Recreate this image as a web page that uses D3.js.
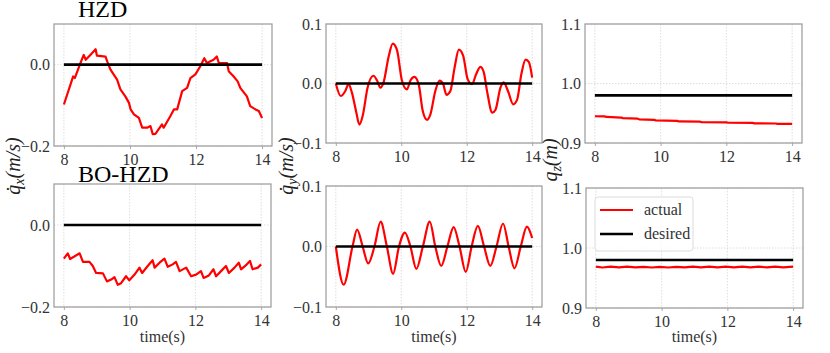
<!DOCTYPE html>
<html>
<head>
<meta charset="utf-8">
<script src="https://cdn.jsdelivr.net/npm/d3@7"></script>
<style>
  body { margin: 0; background: #fff; }
  text { font-family: "Liberation Serif", "DejaVu Serif", serif; }
</style>
</head>
<body>
<script>
// time axis and tick labels
var timeDomain = [7.7, 14.3];
var timeTicks = [8, 10, 12, 14];
var ticksVx = [-0.2, 0.0];
var ticksVy = [-0.1, 0.0, 0.1];
var ticksZ = [0.9, 1.0, 1.1];

// HZD row, [time, value]
var hzdVx = [[8,-0.098],[8.28,-0.029],[8.33,-0.033],[8.5,0.004],[8.6,0.024],[8.66,0.012],[8.8,0.024],
  [8.96,0.038],[9.0,0.022],[9.26,0.020],[9.31,0.008],[9.41,-0.012],[9.61,-0.037],[9.71,-0.061],
  [9.86,-0.078],[9.97,-0.094],[10.02,-0.110],[10.12,-0.122],[10.27,-0.131],[10.37,-0.155],
  [10.52,-0.155],[10.62,-0.151],[10.69,-0.171],[10.77,-0.170],[10.97,-0.147],[11.02,-0.155],
  [11.22,-0.127],[11.33,-0.110],[11.43,-0.110],[11.58,-0.065],[11.73,-0.057],[11.83,-0.033],
  [11.98,-0.024],[12.13,-0.004],[12.25,0.016],[12.33,0.004],[12.53,0.012],[12.63,0.020],
  [12.69,0.004],[12.94,0.004],[12.99,-0.016],[13.14,-0.029],[13.26,-0.041],[13.34,-0.057],
  [13.54,-0.078],[13.64,-0.102],[13.80,-0.110],[13.90,-0.114],[14.0,-0.131]];
var hzdVy = [[8,0],[8.15,-0.021],[8.29,-0.0125],[8.39,-0.001],[8.49,-0.015],[8.62,-0.047],[8.72,-0.069],
  [8.83,-0.052],[8.97,-0.007],[9.15,0.013],[9.26,0.005],[9.36,-0.007],[9.46,0.002],[9.61,0.044],
  [9.74,0.067],[9.87,0.056],[10.02,0.005],[10.17,-0.010],[10.28,0.005],[10.40,0.011],[10.53,-0.001],
  [10.66,-0.047],[10.79,-0.061],[10.89,-0.052],[11.04,-0.0125],[11.17,0.005],[11.28,-0.001],
  [11.38,-0.019],[11.50,-0.0125],[11.63,0.027],[11.76,0.057],[11.89,0.047],[12.03,0.007],
  [12.16,-0.001],[12.29,0.016],[12.42,0.028],[12.52,0.019],[12.62,-0.0125],[12.78,-0.049],
  [12.88,-0.044],[13.03,-0.007],[13.13,0.002],[13.26,-0.0125],[13.42,-0.035],[13.54,-0.027],
  [13.67,0.016],[13.80,0.040],[13.90,0.036],[14.0,0.010]];
var hzdZ = [[8,0.945],[8.3,0.9448],[8.35,0.9438],[8.8,0.9428],[8.85,0.9418],[9.3,0.9408],[9.35,0.9398],
  [9.8,0.9388],[9.85,0.938],[10.5,0.9372],[10.55,0.9362],[11.2,0.9358],[11.25,0.9350],[12,0.9348],
  [12.05,0.9340],[12.8,0.9338],[12.85,0.9330],[13.5,0.9328],[13.55,0.9322],[14,0.932]];

// BO-HZD row
var boVx = [[8.0,-0.082],[8.12,-0.069],[8.19,-0.083],[8.48,-0.069],[8.58,-0.090],[8.78,-0.090],
  [8.88,-0.100],[8.98,-0.117],[9.19,-0.118],[9.31,-0.1375],[9.44,-0.133],[9.54,-0.127],
  [9.64,-0.146],[9.74,-0.142],[9.89,-0.125],[9.99,-0.135],[10.15,-0.121],[10.30,-0.104],
  [10.38,-0.117],[10.55,-0.100],[10.70,-0.086],[10.76,-0.104],[10.91,-0.092],[11.06,-0.082],
  [11.16,-0.102],[11.31,-0.096],[11.41,-0.090],[11.52,-0.1125],[11.72,-0.104],[11.87,-0.125],
  [12.02,-0.121],[12.17,-0.1125],[12.25,-0.129],[12.41,-0.123],[12.55,-0.108],[12.63,-0.125],
  [12.78,-0.1125],[12.93,-0.100],[13.02,-0.117],[13.19,-0.104],[13.32,-0.092],[13.39,-0.108],
  [13.54,-0.098],[13.66,-0.0875],[13.74,-0.108],[13.90,-0.104],[14.0,-0.096]];
var boVy = [[8,0],[8.24,-0.063],[8.51,0],[8.65,0.028],[8.82,0],[8.99,-0.028],[9.18,0],[9.37,0.041],
  [9.56,0],[9.75,-0.045],[9.93,0],[10.11,0.023],[10.28,0],[10.46,-0.037],[10.66,0],[10.87,0.041],
  [11.04,0],[11.22,-0.032],[11.41,0],[11.60,0.032],[11.78,0],[11.97,-0.042],[12.15,0],[12.34,0.034],
  [12.53,0],[12.72,-0.032],[12.91,0],[13.11,0.038],[13.28,0],[13.46,-0.036],[13.65,0],[13.84,0.033],
  [14.0,0.014]];
var boZ = [[8,0.969],[8.2,0.9675],[8.45,0.9688],[8.7,0.9676],[8.95,0.9688],[9.2,0.9676],[9.45,0.9687],
  [9.7,0.9675],[9.95,0.9687],[10.2,0.9675],[10.45,0.9687],[10.7,0.9676],[10.95,0.9688],[11.2,0.9676],
  [11.45,0.9688],[11.7,0.9676],[11.95,0.9688],[12.2,0.9676],[12.45,0.9688],[12.7,0.9676],
  [12.95,0.9688],[13.2,0.9676],[13.45,0.9688],[13.7,0.9676],[14,0.969]];

var desiredV = [[8,0],[14,0]];
var desiredZ = [[8,0.98],[14,0.98]];

var titles = ["HZD", "BO-HZD"];

var svg = d3.select("body").append("svg")
  .attr("width", 830)
  .attr("height", 353);

// one entry per subplot
var panels = [
  {x0:54,  x1:272, y0:24,  y1:146, dom:[-0.2,0.1], ticks:ticksVx, actual:hzdVx, desired:desiredV, curve:d3.curveLinear},
  {x0:326, x1:542, y0:24,  y1:143, dom:[-0.1,0.1], ticks:ticksVy, actual:hzdVy, desired:desiredV, curve:d3.curveMonotoneX},
  {x0:585, x1:802, y0:24,  y1:143, dom:[0.9,1.1],  ticks:ticksZ,  actual:hzdZ,  desired:desiredZ, curve:d3.curveLinear},
  {x0:54,  x1:271, y0:184, y1:307, dom:[-0.2,0.1], ticks:ticksVx, actual:boVx,  desired:desiredV, curve:d3.curveLinear, xlabel:true},
  {x0:326, x1:542, y0:186, y1:307, dom:[-0.1,0.1], ticks:ticksVy, actual:boVy,  desired:desiredV, curve:d3.curveMonotoneX, xlabel:true},
  {x0:586, x1:803, y0:188, y1:308, dom:[0.9,1.1],  ticks:ticksZ,  actual:boZ,   desired:desiredZ, curve:d3.curveLinear, xlabel:true, legend:true}
];

panels.forEach(function(p) {
  var x = d3.scaleLinear().domain(timeDomain).range([p.x0, p.x1]);
  var y = d3.scaleLinear().domain(p.dom).range([p.y1, p.y0]);
  var g = svg.append("g");

  // grid
  g.selectAll("line.gx").data(timeTicks).enter().append("line")
    .attr("x1", function(d) { return x(d); }).attr("x2", function(d) { return x(d); })
    .attr("y1", p.y0).attr("y2", p.y1)
    .style("stroke", "#d6d6d6").style("stroke-width", 0.8).style("stroke-dasharray", "1.5,1.5");
  g.selectAll("line.gy").data(p.ticks).enter().append("line")
    .attr("x1", p.x0).attr("x2", p.x1)
    .attr("y1", function(d) { return y(d); }).attr("y2", function(d) { return y(d); })
    .style("stroke", "#d6d6d6").style("stroke-width", 0.8).style("stroke-dasharray", "1.5,1.5");

  // axes
  var xAxis = d3.axisBottom(x).tickValues(timeTicks).tickSize(3).tickPadding(5).tickFormat(d3.format("d"));
  var ax = g.append("g").attr("transform", "translate(0," + p.y1 + ")").call(xAxis);
  var yAxis = d3.axisLeft(y).tickValues(p.ticks).tickSize(0).tickPadding(4).tickFormat(d3.format(".1f"));
  var ay = g.append("g").attr("transform", "translate(" + p.x0 + ",0)").call(yAxis);
  [ax, ay].forEach(function(a) {
    a.select(".domain").remove();
    a.selectAll("line").style("stroke", "#aaa");
    a.selectAll("text").style("font-size", "16px").style("fill", "#333")
      .style("font-family", "'Liberation Serif', serif");
  });

  var line = d3.line()
    .x(function(d) { return x(d[0]); })
    .y(function(d) { return y(d[1]); })
    .curve(p.curve);

  g.append("path").datum(p.actual).attr("d", line)
    .style("fill", "none").style("stroke", "#ff0000").style("stroke-width", 2.2)
    .style("stroke-linejoin", "round");
  g.append("path").datum(p.desired).attr("d", line)
    .style("fill", "none").style("stroke", "#000").style("stroke-width", 2.6);

  // frame
  g.append("rect")
    .attr("x", p.x0).attr("y", p.y0)
    .attr("width", p.x1 - p.x0).attr("height", p.y1 - p.y0)
    .style("fill", "none").style("stroke", "#9a9a9a").style("stroke-width", 1.2);

  if (p.xlabel) {
    g.append("text")
      .attr("x", (p.x0 + p.x1) / 2).attr("y", 342)
      .attr("text-anchor", "middle")
      .style("font-size", "16px").style("fill", "#333")
      .text("time(s)");
  }

  if (p.legend) {
    var lg = g.append("g");
    lg.append("rect").attr("x", 595).attr("y", 197).attr("width", 98).attr("height", 54)
      .attr("rx", 3).style("fill", "#fff").style("fill-opacity", 0.8)
      .style("stroke", "#dcdcdc").style("stroke-width", 1);
    var items = [["actual", "#ff0000", 210], ["desired", "#000", 234]];
    items.forEach(function(it) {
      lg.append("line").attr("x1", 600).attr("x2", 633).attr("y1", it[2]).attr("y2", it[2])
        .style("stroke", it[1]).style("stroke-width", it[1] === "#000" ? 2.6 : 2.2);
      lg.append("text").attr("x", 644).attr("y", it[2] + 5)
        .style("font-size", "16px").style("fill", "#333").text(it[0]);
    });
  }
});

// row titles
svg.append("text").attr("x", 78).attr("y", 17).style("font-size", "24px").text(titles[0]);
svg.append("text").attr("x", 78).attr("y", 182).style("font-size", "24px").text(titles[1]);

// y labels, one per column
function ylabel(cx, cy, sub, unit) {
  var t = svg.append("text")
    .attr("transform", "translate(" + cx + "," + cy + ") rotate(-90)")
    .attr("text-anchor", "middle")
    .style("font-size", "20px").style("font-style", "italic").style("fill", "#222");
  t.append("tspan").text(sub === "z" ? "q" : "q\u0307");
  t.append("tspan").attr("dy", 4).style("font-size", "14px").text(sub);
  t.append("tspan").attr("dy", -4).text("(" + unit + ")");
}
ylabel(20, 166, "x", "m/s");
ylabel(293, 166, "y", "m/s");
ylabel(557, 160, "z", "m");
</script>
</body>
</html>
